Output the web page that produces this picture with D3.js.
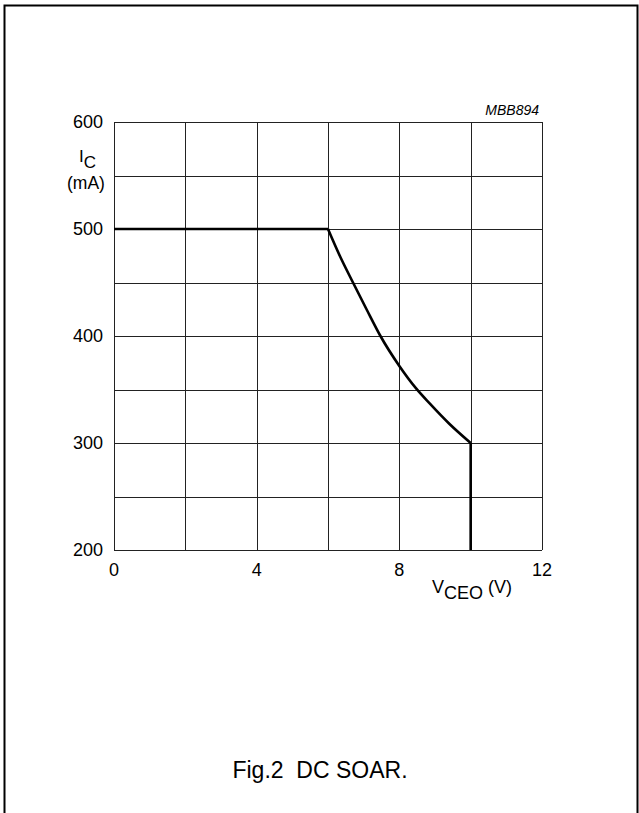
<!DOCTYPE html>
<html>
<head>
<meta charset="utf-8">
<script src="https://cdn.jsdelivr.net/npm/d3@7"></script>
<style>
  body { margin: 0; background: #fff; }
  svg { display: block; font-family: "Liberation Sans", Arial, sans-serif; }
</style>
</head>
<body>
<svg width="639" height="813"></svg>
<script>
'use strict';

// ejes
var xGrid = [0, 2, 4, 6, 8, 10, 12];
var xLabels = [0, 4, 8, 12];
var yGrid = [200, 250, 300, 350, 400, 450, 500, 550, 600];
var yLabels = [200, 300, 400, 500, 600];

// curva SOAR (VCEO en V, IC en mA)
var tramoPlano = [[0, 500], [6, 500]];
var tramoCurvo = [[6, 500], [6.33, 475], [6.7, 450], [7.08, 425], [7.47, 400], [8, 372], [8.47, 351], [8.85, 337], [9.4, 318], [10, 300]];
var tramoVertical = [[10, 300], [10, 200]];

var svg = d3.select("svg");

var x = d3.scaleLinear().domain([0, 12]).range([114, 542]);
var y = d3.scaleLinear().domain([200, 600]).range([550, 122]);

// marco de la figura
svg.append("path")
  .attr("d", "M4.5,813 L4.5,5.5 L637.5,5.5 L637.5,813")
  .attr("fill", "none")
  .attr("stroke", "#000")
  .attr("stroke-width", 2);

var g = svg.append("g");

g.selectAll(".vgrid")
  .data(xGrid)
  .enter().append("line")
  .attr("class", "vgrid")
  .attr("x1", function (d) { return Math.round(x(d)) + 0.5; })
  .attr("x2", function (d) { return Math.round(x(d)) + 0.5; })
  .attr("y1", y(200))
  .attr("y2", y(600))
  .attr("stroke", "#222")
  .attr("stroke-width", 1);

g.selectAll(".hgrid")
  .data(yGrid)
  .enter().append("line")
  .attr("class", "hgrid")
  .attr("x1", x(0))
  .attr("x2", x(12))
  .attr("y1", function (d) { return Math.round(y(d)) + 0.5; })
  .attr("y2", function (d) { return Math.round(y(d)) + 0.5; })
  .attr("stroke", "#222")
  .attr("stroke-width", 1);

g.selectAll(".ylab")
  .data(yLabels)
  .enter().append("text")
  .attr("class", "ylab")
  .attr("x", 103)
  .attr("y", function (d) { return y(d); })
  .attr("dy", "0.35em")
  .attr("text-anchor", "end")
  .attr("font-size", 18)
  .text(function (d) { return d; });

g.selectAll(".xlab")
  .data(xLabels)
  .enter().append("text")
  .attr("class", "xlab")
  .attr("x", function (d) { return x(d); })
  .attr("y", 576)
  .attr("text-anchor", "middle")
  .attr("font-size", 18)
  .text(function (d) { return d; });

// titulos de ejes
var yt = g.append("text").attr("x", 79).attr("y", 162).attr("font-size", 17);
yt.append("tspan").text("I");
yt.append("tspan").attr("dy", 6).text("C");
g.append("text").attr("x", 86).attr("y", 189).attr("text-anchor", "middle")
  .attr("font-size", 17.5).text("(mA)");

var xt = g.append("text").attr("x", 432).attr("y", 593).attr("font-size", 18);
xt.append("tspan").text("V");
xt.append("tspan").attr("dy", 6).text("CEO");
xt.append("tspan").attr("dy", -6).text(" (V)");

g.append("text")
  .attr("x", 539).attr("y", 115)
  .attr("text-anchor", "end")
  .attr("font-size", 14)
  .attr("font-style", "italic")
  .text("MBB894");

// curva
var linea = d3.line().x(function (d) { return x(d[0]); }).y(function (d) { return y(d[1]); });
var curva = d3.line().x(function (d) { return x(d[0]); }).y(function (d) { return y(d[1]); })
  .curve(d3.curveMonotoneX);

[tramoPlano, tramoVertical].forEach(function (t) {
  g.append("path").attr("d", linea(t)).attr("fill", "none")
    .attr("stroke", "#000").attr("stroke-width", 2.6);
});
g.append("path").attr("d", curva(tramoCurvo)).attr("fill", "none")
  .attr("stroke", "#000").attr("stroke-width", 2.6).attr("stroke-linejoin", "round");

// pie de figura
svg.append("text")
  .attr("x", 320).attr("y", 778)
  .attr("text-anchor", "middle")
  .attr("font-size", 23)
  .text("Fig.2  DC SOAR.")
  .attr("xml:space", "preserve")
  .style("white-space", "pre");
</script>
</body>
</html>
